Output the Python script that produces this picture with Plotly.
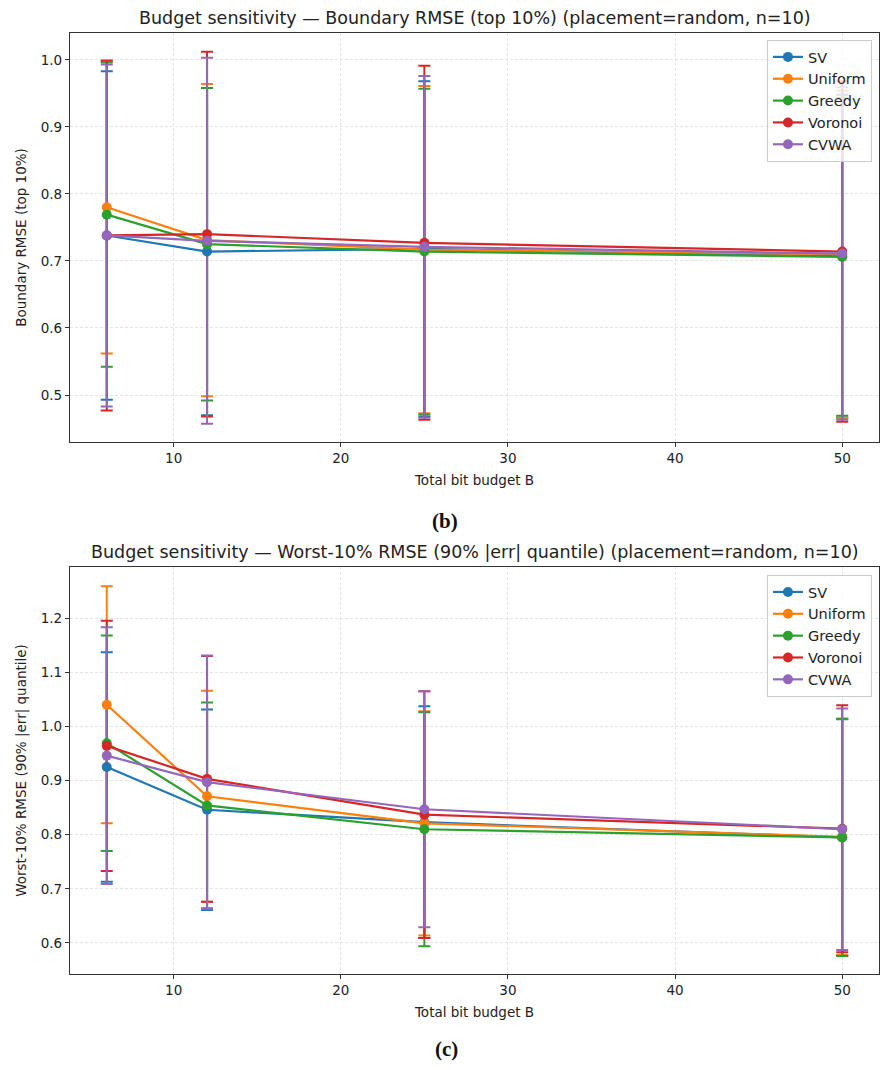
import plotly.graph_objects as go

budgets = [6, 12, 25, 50]
methods = ["SV", "Uniform", "Greedy", "Voronoi", "CVWA"]
colors = ["#1f77b4", "#ff7f0e", "#2ca02c", "#d62728", "#9467bd"]

# (b) Boundary RMSE (top 10%): mean and std per method
boundary_mean = {
    "SV":      [0.738, 0.714, 0.718, 0.707],
    "Uniform": [0.780, 0.731, 0.717, 0.710],
    "Greedy":  [0.769, 0.725, 0.714, 0.706],
    "Voronoi": [0.738, 0.740, 0.727, 0.714],
    "CVWA":    [0.738, 0.730, 0.721, 0.711],
}
boundary_std = {
    "SV":      [0.245, 0.244, 0.250, 0.241],
    "Uniform": [0.218, 0.233, 0.244, 0.244],
    "Greedy":  [0.227, 0.233, 0.243, 0.237],
    "Voronoi": [0.261, 0.272, 0.264, 0.254],
    "CVWA":    [0.255, 0.273, 0.255, 0.248],
}

# (c) Worst-10% RMSE (90% |err| quantile): mean and std per method
worst_mean = {
    "SV":      [0.925, 0.846, 0.823, 0.795],
    "Uniform": [1.040, 0.871, 0.821, 0.796],
    "Greedy":  [0.969, 0.854, 0.810, 0.795],
    "Voronoi": [0.964, 0.903, 0.837, 0.811],
    "CVWA":    [0.946, 0.897, 0.847, 0.810],
}
worst_std = {
    "SV":      [0.212, 0.185, 0.214, 0.218],
    "Uniform": [0.219, 0.195, 0.207, 0.218],
    "Greedy":  [0.199, 0.190, 0.216, 0.219],
    "Voronoi": [0.231, 0.227, 0.228, 0.228],
    "CVWA":    [0.237, 0.234, 0.218, 0.223],
}

font = "DejaVu Sans"
fig = go.Figure()

panels = [
    (boundary_mean, boundary_std, "x", "y", "legend"),
    (worst_mean, worst_std, "x2", "y2", "legend2"),
]

for means, stds, xa, ya, leg in panels:
    # error bars first so the lines and markers sit on top
    for m, c in zip(methods, colors):
        fig.add_trace(go.Scatter(
            x=budgets, y=means[m], mode="markers",
            marker=dict(size=1, color="rgba(0,0,0,0)"),
            error_y=dict(type="data", array=stds[m], color=c, thickness=2, width=6),
            xaxis=xa, yaxis=ya, showlegend=False, hoverinfo="skip",
        ))
    for m, c in zip(methods, colors):
        fig.add_trace(go.Scatter(
            x=budgets, y=means[m], mode="lines+markers", name=m,
            line=dict(color=c, width=2.2), marker=dict(color=c, size=10),
            xaxis=xa, yaxis=ya, legend=leg,
        ))

axis_common = dict(
    showline=True, linecolor="#333333", linewidth=1.2, mirror=True,
    ticks="outside", ticklen=4, tickcolor="#333333",
    showgrid=True, gridcolor="#e4e4e4", griddash="3px,2px", gridwidth=1,
    zeroline=False, tickfont=dict(family=font, size=13.5, color="#222222"),
    title_font=dict(family=font, size=13.5, color="#222222"),
)

fig.update_layout(
    width=893, height=1070,
    margin=dict(l=70, r=14, t=33, b=96),
    plot_bgcolor="white", paper_bgcolor="white",
    font=dict(family=font, size=13.5, color="#222222"),
    xaxis=dict(domain=[0, 1], anchor="y", range=[3.8, 52.2], tickvals=[10, 20, 30, 40, 50],
               title=dict(text="Total bit budget B", standoff=10), **axis_common),
    yaxis=dict(domain=[0.5654, 1], anchor="x", range=[0.43, 1.04], dtick=0.1, tickformat=".1f",
               title=dict(text="Boundary RMSE (top 10%)", standoff=10), **axis_common),
    xaxis2=dict(domain=[0, 1], anchor="y2", range=[3.8, 52.2], tickvals=[10, 20, 30, 40, 50],
                title=dict(text="Total bit budget B", standoff=10), **axis_common),
    yaxis2=dict(domain=[0, 0.4325], anchor="x2", range=[0.5427, 1.2943], dtick=0.1, tickformat=".1f",
                title=dict(text="Worst-10% RMSE (90% |err| quantile)", standoff=10), **axis_common),
    legend=dict(x=0.9913, xanchor="right", y=0.9926, yanchor="top",
                bgcolor="rgba(255,255,255,0.8)", bordercolor="#cccccc", borderwidth=1,
                font=dict(family=font, size=14.5, color="#222222")),
    legend2=dict(x=0.9913, xanchor="right", y=0.424, yanchor="top",
                 bgcolor="rgba(255,255,255,0.8)", bordercolor="#cccccc", borderwidth=1,
                 font=dict(family=font, size=14.5, color="#222222")),
    showlegend=True,
)

title_font = dict(family=font, size=17.5, color="#222222")
fig.add_annotation(
    text="Budget sensitivity — Boundary RMSE (top 10%) (placement=random, n=10)",
    x=0.5, y=1.0159, xref="paper", yref="paper", xanchor="center", yanchor="middle",
    showarrow=False, font=title_font,
)
fig.add_annotation(
    text="Budget sensitivity — Worst-10% RMSE (90% |err| quantile) (placement=random, n=10)",
    x=0.5, y=0.4485, xref="paper", yref="paper", xanchor="center", yanchor="middle",
    showarrow=False, font=title_font,
)
label_font = dict(family="Liberation Serif", size=21, color="#111111")
fig.add_annotation(text="<b>(b)</b>", x=0.4635, y=0.4814, xref="paper", yref="paper",
                   xanchor="center", yanchor="middle", showarrow=False, font=label_font)
fig.add_annotation(text="<b>(c)</b>", x=0.4657, y=-0.0797, xref="paper", yref="paper",
                   xanchor="center", yanchor="middle", showarrow=False, font=label_font)

fig.write_html("out.html", config={"displayModeBar": False},
               post_script="document.body.style.margin='0';")
